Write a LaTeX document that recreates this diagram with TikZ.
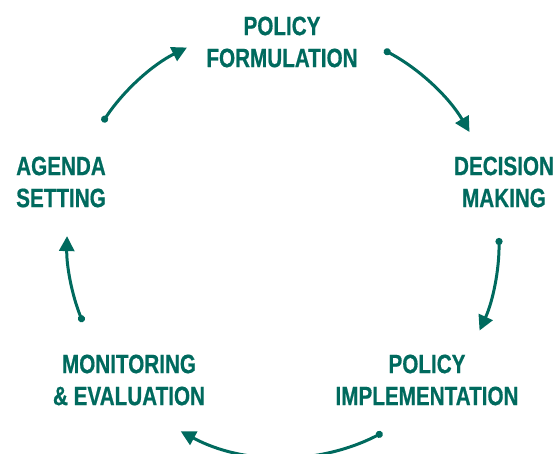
\documentclass[tikz,border=0pt]{standalone}
\usepackage{fontspec}
\usepackage{xcolor}
\usetikzlibrary{arrows.meta,positioning,calc}
\newfontfamily\stagefont[FakeStretch=0.78,FakeBold=0.6]{Liberation Sans Bold}
\definecolor{cyclegreen}{HTML}{006A5E}

\begin{document}
\begin{tikzpicture}[
    x=1pt, y=1pt,
    every node/.style={font=\stagefont\fontsize{26.5}{32}\selectfont},
    stage/.style={text=cyclegreen, align=center, inner sep=0pt},
    flow/.style={draw=cyclegreen, line width=3pt, {Circle[length=7pt]}-{Triangle[length=15pt,width=15pt]}}
]
\useasboundingbox (0,0) rectangle (559,454);
\clip (0,0) rectangle (559,454);

\coordinate (ctr) at (283,213);
\def\rad{216}

\node[stage] (formulation) at (282,412) {POLICY\\FORMULATION};
\node[stage] (decision) at (504,272) {DECISION\\MAKING};
\node[stage] (implementation) at (427,74) {POLICY\\IMPLEMENTATION};
\node[stage] (monitoring) at (129,74) {MONITORING\\\& EVALUATION};
\node[stage] (agenda) at (61,272) {AGENDA\\SETTING};

\foreach \from/\to [count=\i] in {146.6/116.4, 62.1/30.3, 0.8/-24.5, -62.6/-118.3, -158/178.7-360}{
    \coordinate (start\i) at ($(ctr)+(\from:\rad)$);
    \draw[flow] (start\i) arc[start angle=\from, end angle=\to, radius=\rad];
}

\end{tikzpicture}
\end{document}
